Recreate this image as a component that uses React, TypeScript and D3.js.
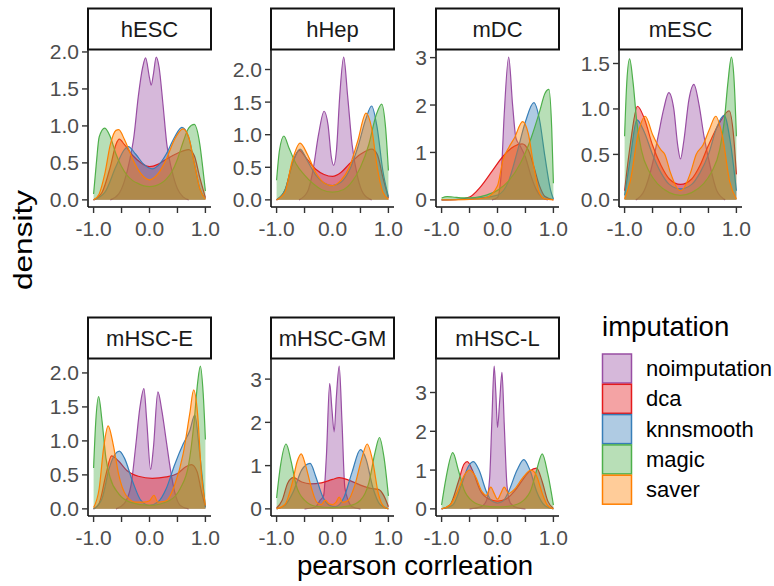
import * as d3 from "d3";

// facets and methods
const panels = ["hESC", "hHep", "mDC", "mESC", "mHSC-E", "mHSC-GM", "mHSC-L"];
const methods = ["noimputation", "dca", "knnsmooth", "magic", "saver"];
const colors = ["#984EA3", "#E41A1C", "#377EB8", "#4DAF4A", "#FF7F00"];

// density curves: [pearson correlation, density]
const hESC = {
  noimputation: [[-0.7, 0], [-0.55, 0.08], [-0.45, 0.25], [-0.35, 0.55], [-0.28, 0.85], [-0.2, 1.4], [-0.12, 1.8], [-0.07, 1.92], [0, 1.65], [0.03, 1.55], [0.07, 1.7], [0.12, 1.93], [0.17, 1.8], [0.24, 1.3], [0.31, 0.75], [0.4, 0.4], [0.5, 0.15], [0.6, 0.04], [0.7, 0]],
  dca: [[-1, 0], [-0.85, 0.1], [-0.7, 0.45], [-0.6, 0.75], [-0.54, 0.82], [-0.45, 0.75], [-0.3, 0.6], [-0.15, 0.5], [0, 0.45], [0.15, 0.48], [0.3, 0.55], [0.5, 0.63], [0.7, 0.68], [0.8, 0.6], [0.9, 0.3], [1, 0.03]],
  knnsmooth: [[-1, 0], [-0.8, 0.1], [-0.6, 0.45], [-0.45, 0.68], [-0.38, 0.72], [-0.25, 0.62], [-0.1, 0.48], [0.05, 0.42], [0.15, 0.46], [0.3, 0.62], [0.45, 0.85], [0.58, 0.98], [0.7, 0.85], [0.8, 0.5], [0.9, 0.15], [1, 0.02]],
  magic: [[-1, 0.08], [-0.95, 0.5], [-0.9, 0.85], [-0.8, 0.97], [-0.7, 0.85], [-0.6, 0.62], [-0.5, 0.45], [-0.4, 0.33], [-0.3, 0.26], [-0.2, 0.22], [-0.1, 0.19], [0, 0.18], [0.1, 0.19], [0.2, 0.22], [0.3, 0.28], [0.4, 0.38], [0.5, 0.55], [0.6, 0.78], [0.7, 0.97], [0.8, 1.02], [0.9, 0.75], [0.95, 0.45], [1, 0.12]],
  saver: [[-1, 0], [-0.9, 0.08], [-0.8, 0.35], [-0.7, 0.75], [-0.6, 0.94], [-0.55, 0.95], [-0.45, 0.82], [-0.3, 0.55], [-0.15, 0.35], [0, 0.27], [0.15, 0.35], [0.3, 0.55], [0.45, 0.82], [0.6, 0.96], [0.7, 0.85], [0.8, 0.5], [0.9, 0.15], [1, 0.01]],
};
const hHep = {
  noimputation: [[-0.6, 0], [-0.45, 0.12], [-0.35, 0.45], [-0.25, 1.0], [-0.15, 1.36], [-0.08, 1.15], [-0.02, 0.65], [0.02, 0.53], [0.07, 0.75], [0.13, 1.6], [0.2, 2.19], [0.27, 1.6], [0.35, 0.85], [0.45, 0.35], [0.55, 0.1], [0.7, 0]],
  dca: [[-1, 0], [-0.85, 0.15], [-0.72, 0.55], [-0.6, 0.76], [-0.45, 0.62], [-0.3, 0.47], [-0.15, 0.39], [0, 0.36], [0.15, 0.42], [0.3, 0.55], [0.5, 0.7], [0.7, 0.78], [0.8, 0.7], [0.9, 0.35], [1, 0.03]],
  knnsmooth: [[-1, 0], [-0.85, 0.15], [-0.7, 0.6], [-0.58, 0.78], [-0.45, 0.6], [-0.3, 0.38], [-0.15, 0.26], [0, 0.22], [0.15, 0.27], [0.3, 0.45], [0.45, 0.8], [0.6, 1.25], [0.7, 1.44], [0.8, 1.1], [0.9, 0.45], [1, 0.05]],
  magic: [[-1, 0.3], [-0.95, 0.75], [-0.87, 0.98], [-0.78, 0.8], [-0.65, 0.55], [-0.5, 0.38], [-0.35, 0.25], [-0.2, 0.16], [0, 0.12], [0.2, 0.16], [0.35, 0.28], [0.5, 0.5], [0.65, 0.85], [0.78, 1.3], [0.88, 1.47], [0.95, 1.1], [1, 0.45]],
  saver: [[-1, 0], [-0.85, 0.12], [-0.72, 0.6], [-0.58, 0.87], [-0.45, 0.7], [-0.3, 0.42], [-0.15, 0.26], [0, 0.22], [0.15, 0.3], [0.3, 0.5], [0.45, 0.9], [0.6, 1.33], [0.7, 1.1], [0.8, 0.5], [0.9, 0.12], [1, 0.01]],
};
const mDC = {
  noimputation: [[-0.1, 0], [0, 0.05], [0.07, 0.6], [0.12, 1.8], [0.2, 3.01], [0.27, 2.0], [0.33, 1.3], [0.4, 1.15], [0.5, 0.9], [0.6, 0.5], [0.7, 0.2], [0.8, 0.05], [0.9, 0]],
  dca: [[-1, 0], [-0.7, 0.01], [-0.5, 0.06], [-0.3, 0.28], [-0.1, 0.6], [0.1, 0.92], [0.3, 1.13], [0.44, 1.18], [0.55, 1.05], [0.65, 0.7], [0.75, 0.3], [0.85, 0.07], [1, 0]],
  knnsmooth: [[-1, 0], [-0.5, 0.02], [0, 0.1], [0.2, 0.4], [0.35, 1.0], [0.5, 1.65], [0.65, 2.05], [0.75, 1.7], [0.85, 0.9], [0.95, 0.2], [1, 0.02]],
  magic: [[-1, 0.04], [-0.9, 0.07], [-0.8, 0.06], [-0.6, 0.04], [-0.4, 0.05], [-0.2, 0.1], [0, 0.2], [0.2, 0.4], [0.4, 0.75], [0.6, 1.3], [0.75, 1.85], [0.85, 2.25], [0.92, 2.33], [0.97, 1.5], [1, 0.35]],
  saver: [[-1, 0], [-0.5, 0.01], [-0.2, 0.05], [0, 0.3], [0.1, 0.85], [0.2, 1.1], [0.3, 1.3], [0.45, 1.65], [0.55, 1.4], [0.65, 0.7], [0.75, 0.15], [0.85, 0.02], [1, 0]],
};
const mESC = {
  noimputation: [[-0.8, 0], [-0.65, 0.1], [-0.5, 0.4], [-0.4, 0.7], [-0.3, 1.0], [-0.21, 1.18], [-0.12, 1.0], [-0.05, 0.6], [0, 0.45], [0.06, 0.65], [0.15, 1.1], [0.24, 1.27], [0.33, 1.05], [0.42, 0.7], [0.52, 0.4], [0.65, 0.1], [0.8, 0]],
  dca: [[-1, 0.1], [-0.9, 0.6], [-0.77, 1.03], [-0.65, 0.9], [-0.5, 0.6], [-0.35, 0.38], [-0.2, 0.23], [0, 0.17], [0.2, 0.23], [0.35, 0.38], [0.5, 0.6], [0.7, 0.85], [0.87, 0.98], [0.95, 0.7], [1, 0.28]],
  knnsmooth: [[-1, 0.05], [-0.9, 0.45], [-0.78, 0.88], [-0.65, 0.75], [-0.5, 0.5], [-0.35, 0.3], [-0.2, 0.17], [0, 0.12], [0.2, 0.17], [0.35, 0.3], [0.5, 0.5], [0.65, 0.8], [0.78, 0.93], [0.9, 0.6], [1, 0.1]],
  magic: [[-1, 0.7], [-0.96, 1.3], [-0.91, 1.55], [-0.85, 1.3], [-0.78, 0.85], [-0.7, 0.55], [-0.55, 0.3], [-0.4, 0.17], [-0.2, 0.08], [0, 0.05], [0.2, 0.08], [0.4, 0.17], [0.55, 0.3], [0.7, 0.55], [0.78, 0.85], [0.85, 1.3], [0.91, 1.57], [0.96, 1.3], [1, 0.7]],
  saver: [[-1, 0.01], [-0.9, 0.2], [-0.75, 0.75], [-0.63, 0.92], [-0.5, 0.72], [-0.35, 0.55], [-0.28, 0.5], [-0.18, 0.3], [-0.05, 0.12], [0, 0.1], [0.05, 0.12], [0.18, 0.3], [0.28, 0.5], [0.4, 0.6], [0.52, 0.78], [0.63, 0.92], [0.75, 0.7], [0.88, 0.2], [1, 0.01]],
};
const mHSC_E = {
  noimputation: [[-0.6, 0], [-0.45, 0.08], [-0.33, 0.35], [-0.25, 0.9], [-0.17, 1.5], [-0.1, 1.77], [-0.05, 1.3], [0.02, 0.58], [0.07, 0.9], [0.15, 1.72], [0.22, 1.45], [0.3, 1.0], [0.38, 0.55], [0.45, 0.25], [0.55, 0.05], [0.7, 0]],
  dca: [[-1, 0], [-0.9, 0.08], [-0.78, 0.5], [-0.68, 0.78], [-0.55, 0.7], [-0.4, 0.56], [-0.2, 0.48], [0.05, 0.45], [0.3, 0.47], [0.5, 0.52], [0.65, 0.62], [0.75, 0.65], [0.85, 0.55], [0.93, 0.25], [1, 0.03]],
  knnsmooth: [[-1, 0], [-0.85, 0.15], [-0.72, 0.6], [-0.62, 0.8], [-0.54, 0.85], [-0.45, 0.75], [-0.3, 0.4], [-0.15, 0.12], [0, 0.05], [0.15, 0.1], [0.3, 0.3], [0.45, 0.65], [0.6, 0.95], [0.72, 1.15], [0.81, 1.38], [0.9, 0.8], [1, 0.02]],
  magic: [[-1, 0.6], [-0.96, 1.3], [-0.91, 1.65], [-0.85, 1.3], [-0.78, 0.75], [-0.7, 0.45], [-0.55, 0.22], [-0.35, 0.1], [0, 0.05], [0.35, 0.12], [0.55, 0.3], [0.7, 0.65], [0.8, 1.3], [0.86, 1.85], [0.91, 2.1], [0.96, 1.7], [1, 1.02]],
  saver: [[-1, 0.02], [-0.9, 0.3], [-0.82, 0.9], [-0.74, 1.22], [-0.65, 0.95], [-0.55, 0.5], [-0.42, 0.2], [-0.25, 0.1], [-0.1, 0.1], [0, 0.12], [0.08, 0.2], [0.15, 0.1], [0.3, 0.12], [0.45, 0.35], [0.6, 0.8], [0.72, 1.4], [0.79, 1.75], [0.86, 1.4], [0.93, 0.5], [1, 0.05]],
};
const mHSC_GM = {
  noimputation: [[-0.5, 0], [-0.3, 0.05], [-0.22, 0.2], [-0.16, 0.3], [-0.11, 1.2], [-0.05, 2.9], [-0.01, 2.3], [0.03, 1.78], [0.07, 2.6], [0.12, 3.3], [0.17, 2.0], [0.22, 0.5], [0.28, 0.2], [0.35, 0.05], [0.5, 0]],
  dca: [[-1, 0.02], [-0.9, 0.2], [-0.8, 0.6], [-0.7, 0.72], [-0.55, 0.62], [-0.4, 0.58], [-0.2, 0.6], [0, 0.68], [0.12, 0.72], [0.3, 0.66], [0.5, 0.55], [0.7, 0.47], [0.82, 0.45], [0.92, 0.3], [1, 0.05]],
  knnsmooth: [[-1, 0], [-0.85, 0.08], [-0.7, 0.4], [-0.55, 0.9], [-0.4, 1.05], [-0.3, 0.75], [-0.18, 0.3], [-0.05, 0.08], [0.05, 0.05], [0.2, 0.25], [0.35, 0.85], [0.5, 1.37], [0.6, 1.15], [0.72, 0.5], [0.85, 0.1], [1, 0]],
  magic: [[-1, 0.25], [-0.93, 1.0], [-0.83, 1.5], [-0.74, 1.1], [-0.65, 0.55], [-0.5, 0.2], [-0.3, 0.06], [0, 0.03], [0.3, 0.07], [0.5, 0.2], [0.65, 0.6], [0.76, 1.3], [0.84, 1.65], [0.92, 1.2], [1, 0.3]],
  saver: [[-1, 0], [-0.85, 0.1], [-0.72, 0.6], [-0.63, 1.1], [-0.56, 1.27], [-0.48, 1.0], [-0.38, 0.5], [-0.28, 0.15], [-0.2, 0.1], [-0.13, 0.2], [-0.06, 0.12], [0, 0.1], [0.06, 0.15], [0.12, 0.27], [0.18, 0.15], [0.28, 0.2], [0.4, 0.55], [0.52, 1.15], [0.62, 1.5], [0.72, 1.1], [0.82, 0.35], [0.92, 0.05], [1, 0]],
};
const mHSC_L = {
  noimputation: [[-0.5, 0], [-0.3, 0.05], [-0.2, 0.2], [-0.14, 0.8], [-0.1, 2.3], [-0.06, 3.68], [-0.03, 3.0], [0, 2.1], [0.04, 2.8], [0.08, 3.52], [0.12, 2.2], [0.17, 0.6], [0.23, 0.15], [0.35, 0.03], [0.5, 0]],
  dca: [[-1, 0], [-0.85, 0.1], [-0.7, 0.7], [-0.6, 1.15], [-0.54, 1.22], [-0.45, 1.0], [-0.3, 0.45], [-0.15, 0.25], [0, 0.2], [0.15, 0.25], [0.3, 0.45], [0.45, 0.75], [0.58, 0.98], [0.7, 1.05], [0.8, 0.7], [0.9, 0.2], [1, 0.01]],
  knnsmooth: [[-1, 0], [-0.8, 0.1], [-0.65, 0.6], [-0.52, 1.1], [-0.43, 1.22], [-0.33, 1.0], [-0.2, 0.45], [-0.1, 0.2], [0, 0.15], [0.1, 0.2], [0.2, 0.45], [0.35, 1.0], [0.47, 1.27], [0.58, 1.0], [0.7, 0.45], [0.85, 0.08], [1, 0]],
  magic: [[-1, 0.1], [-0.92, 0.8], [-0.8, 1.45], [-0.7, 1.0], [-0.6, 0.5], [-0.45, 0.2], [-0.25, 0.08], [0, 0.05], [0.25, 0.08], [0.45, 0.2], [0.6, 0.5], [0.7, 1.0], [0.8, 1.42], [0.9, 0.9], [1, 0.1]],
  saver: [[-1, 0], [-0.85, 0.1], [-0.7, 0.5], [-0.6, 0.85], [-0.5, 1.0], [-0.4, 0.85], [-0.28, 0.45], [-0.2, 0.35], [-0.12, 0.56], [-0.06, 0.4], [0, 0.25], [0.06, 0.4], [0.12, 0.56], [0.2, 0.4], [0.3, 0.5], [0.45, 0.8], [0.6, 1.0], [0.7, 0.85], [0.8, 0.4], [0.9, 0.08], [1, 0]],
};
const panelData = [hESC, hHep, mDC, mESC, mHSC_E, mHSC_GM, mHSC_L];

// tick labels
const yTicks = [
  ["0.0", "0.5", "1.0", "1.5", "2.0"],
  ["0.0", "0.5", "1.0", "1.5", "2.0"],
  ["0", "1", "2", "3"],
  ["0.0", "0.5", "1.0", "1.5"],
  ["0.0", "0.5", "1.0", "1.5", "2.0"],
  ["0", "1", "2", "3"],
  ["0", "1", "2", "3"],
];
const xTicks = [-1, -0.5, 0, 0.5, 1];
const xTickLabels = ["-1.0", "", "0.0", "", "1.0"];

const FONT = "'Liberation Sans', Arial, sans-serif";

function Panel({name, data, ticks, x, y, w, h}) {
    const xScale = d3.scaleLinear().domain([-1.1, 1.1]).range([0, w]);
    const max = d3.max(methods.flatMap(m => data[m].map(p => p[1])));
    const yScale = d3.scaleLinear().domain([-0.05 * max, 1.05 * max]).range([h, 0]);
    const area = d3.area().x(d => xScale(d[0])).y0(yScale(0)).y1(d => yScale(d[1])).curve(d3.curveMonotoneX);
    const line = d3.line().x(d => xScale(d[0])).y(d => yScale(d[1])).curve(d3.curveMonotoneX);
    const stripH = 41;
    return (
        <g transform={`translate(${x},${y})`}>
            <rect x={0} y={-stripH - 0.5} width={w} height={stripH} fill="white" stroke="#111" strokeWidth={2}/>
            <text x={w / 2} y={-stripH / 2 - 0.5} textAnchor="middle" dominantBaseline="central"
                  fontSize={22} fill="#1a1a1a">{name}</text>
            {methods.map((m, i) =>
                <g key={m}>
                    <path d={area(data[m])} fill={colors[i]} fillOpacity={0.4}/>
                    <path d={line(data[m])} fill="none" stroke={colors[i]} strokeWidth={1.2}/>
                </g>
            )}
            <line x1={0} x2={0} y1={0} y2={h} stroke="#111" strokeWidth={1.6}/>
            <line x1={0} x2={w} y1={h} y2={h} stroke="#111" strokeWidth={1.6}/>
            {ticks.map(t =>
                <g key={t} transform={`translate(0,${yScale(+t)})`}>
                    <line x1={-6} x2={0} stroke="#333" strokeWidth={1.4}/>
                    <text x={-9} textAnchor="end" dominantBaseline="central" fontSize={21} fill="#4d4d4d">{t}</text>
                </g>
            )}
            {xTicks.map((t, i) =>
                <g key={t} transform={`translate(${xScale(t)},${h})`}>
                    <line y1={0} y2={6} stroke="#333" strokeWidth={1.4}/>
                    <text y={28.5} textAnchor="middle" fontSize={21} fill="#4d4d4d">{xTickLabels[i]}</text>
                </g>
            )}
        </g>
    )
}

export default function App() {
    const width = 774;
    const height = 586;
    const colLeft = [88, 271, 436, 619];
    const rowTop = [50, 359];
    const panelW = 123;
    const panelH = 157;

    return (
        <svg width={width} height={height} style={{position: "absolute", left: 0, top: 0}} fontFamily={FONT}>
            <rect width={width} height={height} fill="white"/>
            {panels.map((p, i) =>
                <Panel key={p} name={p} data={panelData[i]} ticks={yTicks[i]}
                       x={colLeft[i % 4]} y={rowTop[Math.floor(i / 4)]} w={panelW} h={panelH}/>
            )}
            <text x={415} y={575} textAnchor="middle" fontSize={27.6} fill="#000">pearson corrleation</text>
            <text transform="translate(32,240) rotate(-90)" textAnchor="middle" fontSize={26}
                  textLength={100} lengthAdjust="spacingAndGlyphs" fill="#000">density</text>
            <g transform="translate(602,336)">
                <text x={0} y={0} fontSize={27.6} fill="#000">imputation</text>
                {methods.map((m, i) =>
                    <g key={m} transform={`translate(0,${17.5 + i * 30.3})`}>
                        <rect x={0.5} y={0.5} width={29} height={29} fill={colors[i]} fillOpacity={0.4}
                              stroke={colors[i]} strokeWidth={1.5}/>
                        <text x={44} y={15} dominantBaseline="central" fontSize={22} fill="#000">{m}</text>
                    </g>
                )}
            </g>
        </svg>
    )
}
